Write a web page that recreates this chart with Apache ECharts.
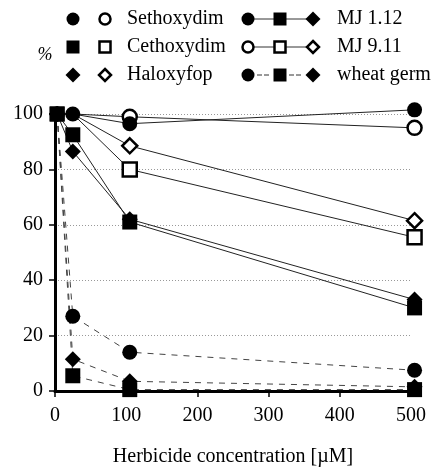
<!DOCTYPE html>
<html lang="en">
<head>
    <meta charset="UTF-8">
    <title>Herbicide</title>
    <script src="https://cdn.jsdelivr.net/npm/echarts@6/dist/echarts.min.js"></script>
    <style>
        html, body { margin: 0; padding: 0; background: #fff; }
        #main { width: 431px; height: 472px; }
    </style>
</head>
<body>
<div id="main"></div>
<script>
    // concentrations (as placed in the figure)
    var conc = [3, 25, 105, 505];

    // MJ 1.12 (filled, solid line)
    var sethMJ112 = [100, 100, 96.5, 101.5];
    var cethMJ112 = [100, 92.5, 61, 30];
    var haloMJ112 = [100, 86.5, 62, 33];

    // MJ 9.11 (open, solid line)
    var sethMJ911 = [100, 100, 99, 95];
    var cethMJ911 = [100, 100, 80, 55.5];
    var haloMJ911 = [100, 100, 88.5, 61.5];

    // wheat germ (filled, dashed line)
    var sethWheat = [100, 27, 14, 7.5];
    var cethWheat = [100, 5.5, 0.5, 0.5];
    var haloWheat = [100, 11.5, 3.5, 1.5];

    var herbicides = ['Sethoxydim', 'Cethoxydim', 'Haloxyfop'];
    var sources = ['MJ 1.12', 'MJ 9.11', 'wheat germ'];

    var font = 'Liberation Serif';

    function pts(arr, hideFirst) {
        var out = [];
        for (var i = 0; i < arr.length; i++) {
            if (i < hideFirst) {
                out.push({value: [conc[i], arr[i]], symbol: 'none'});
            } else {
                out.push([conc[i], arr[i]]);
            }
        }
        return out;
    }

    function mkSeries(arr, symbol, open, dashed, hideFirst) {
        var size = symbol === 'diamond' ? 16 : 15;
        if (open) size = size - 1;
        return {
            type: 'line',
            data: pts(arr, hideFirst),
            symbol: symbol,
            symbolSize: size,
            showAllSymbol: true,
            clip: false,
            animation: false,
            lineStyle: dashed ? {color: '#444', width: 1, type: [6, 6]} : {color: '#222', width: 1},
            itemStyle: open ? {color: '#fff', borderColor: '#000', borderWidth: 2.5, opacity: 1}
                            : {color: '#000', borderWidth: 0, opacity: 1}
        };
    }

    // legend drawing
    var legend = [];
    var symX1 = [73, 105];
    var symX2 = [248, 280, 313];
    var rowY = [19, 47, 75];
    var shapes = ['circle', 'rect', 'diamond'];

    function mark(shape, x, y, open) {
        var st = open ? {fill: '#fff', stroke: '#000', lineWidth: 2.5} : {fill: '#000'};
        if (shape === 'circle') {
            return {type: 'circle', shape: {cx: x, cy: y, r: open ? 5.5 : 6.5}, style: st, z: 10};
        } else if (shape === 'rect') {
            var h = open ? 5.5 : 6.5;
            return {type: 'rect', shape: {x: x - h, y: y - h, width: 2 * h, height: 2 * h}, style: st, z: 10};
        }
        var d = open ? 6 : 7.5;
        return {type: 'polygon', shape: {points: [[x, y - d], [x + d, y], [x, y + d], [x - d, y]]}, style: st, z: 10};
    }

    for (var r = 0; r < 3; r++) {
        legend.push(mark(shapes[r], symX1[0], rowY[r], false));
        legend.push(mark(shapes[r], symX1[1], rowY[r], true));
        legend.push({type: 'text', x: 127, y: rowY[r], style: {text: herbicides[r], font: '20px "' + font + '"', fill: '#000', verticalAlign: 'middle'}});

        var open = r === 1;
        legend.push({type: 'line', shape: {x1: symX2[0], y1: rowY[r], x2: symX2[2], y2: rowY[r]},
            style: {stroke: '#333', lineWidth: 1, lineDash: r === 2 ? [5, 11] : null}, z: 5});
        if (r === 2) {
            legend.push({type: 'line', shape: {x1: symX2[0] + 9, y1: rowY[r], x2: symX2[0] + 14, y2: rowY[r]}, style: {stroke: '#333', lineWidth: 1}, z: 5});
            legend.push({type: 'line', shape: {x1: symX2[1] + 9, y1: rowY[r], x2: symX2[1] + 14, y2: rowY[r]}, style: {stroke: '#333', lineWidth: 1}, z: 5});
        }
        for (var k = 0; k < 3; k++) {
            legend.push(mark(shapes[k], symX2[k], rowY[r], open));
        }
        legend.push({type: 'text', x: 337, y: rowY[r], style: {text: sources[r], font: '20px "' + font + '"', fill: '#000', verticalAlign: 'middle'}});
    }
    legend.push({type: 'text', x: 45, y: 55, style: {text: '%', font: 'italic 18px "' + font + '"', fill: '#000', align: 'center', verticalAlign: 'middle'}});

    var chart = echarts.init(document.getElementById('main'));
    chart.setOption({
        backgroundColor: '#fff',
        animation: false,
        grid: {left: 55, right: 20, top: 114, bottom: 73},
        graphic: legend,
        xAxis: {
            type: 'value',
            min: 0, max: 500, interval: 100,
            name: 'Herbicide concentration [µM]',
            nameLocation: 'middle',
            nameGap: 56,
            nameTextStyle: {fontFamily: font, fontSize: 20, color: '#000'},
            axisLine: {show: true, onZero: false, lineStyle: {color: '#000', width: 3}},
            axisTick: {show: true, length: 6, lineStyle: {color: '#000', width: 1.5}},
            axisLabel: {margin: 15, fontFamily: font, fontSize: 20, color: '#000'},
            splitLine: {show: false}
        },
        yAxis: {
            type: 'value',
            min: 0, max: 100, interval: 20,
            axisLine: {show: true, lineStyle: {color: '#000', width: 3}},
            axisTick: {show: true, length: 6, lineStyle: {color: '#000', width: 1.5}},
            axisLabel: {margin: 12, fontFamily: font, fontSize: 20, color: '#000'},
            splitLine: {show: true, lineStyle: {color: '#999', width: 1, type: [1, 2]}}
        },
        series: [
            mkSeries(sethWheat, 'circle', false, true, 0),
            mkSeries(cethWheat, 'rect', false, true, 0),
            mkSeries(haloWheat, 'diamond', false, true, 0),
            mkSeries(sethMJ911, 'circle', true, false, 2),
            mkSeries(cethMJ911, 'rect', true, false, 2),
            mkSeries(haloMJ911, 'diamond', true, false, 2),
            mkSeries(haloMJ112, 'diamond', false, false, 0),
            mkSeries(cethMJ112, 'rect', false, false, 0),
            mkSeries(sethMJ112, 'circle', false, false, 0)
        ]
    });
</script>
</body>
</html>
